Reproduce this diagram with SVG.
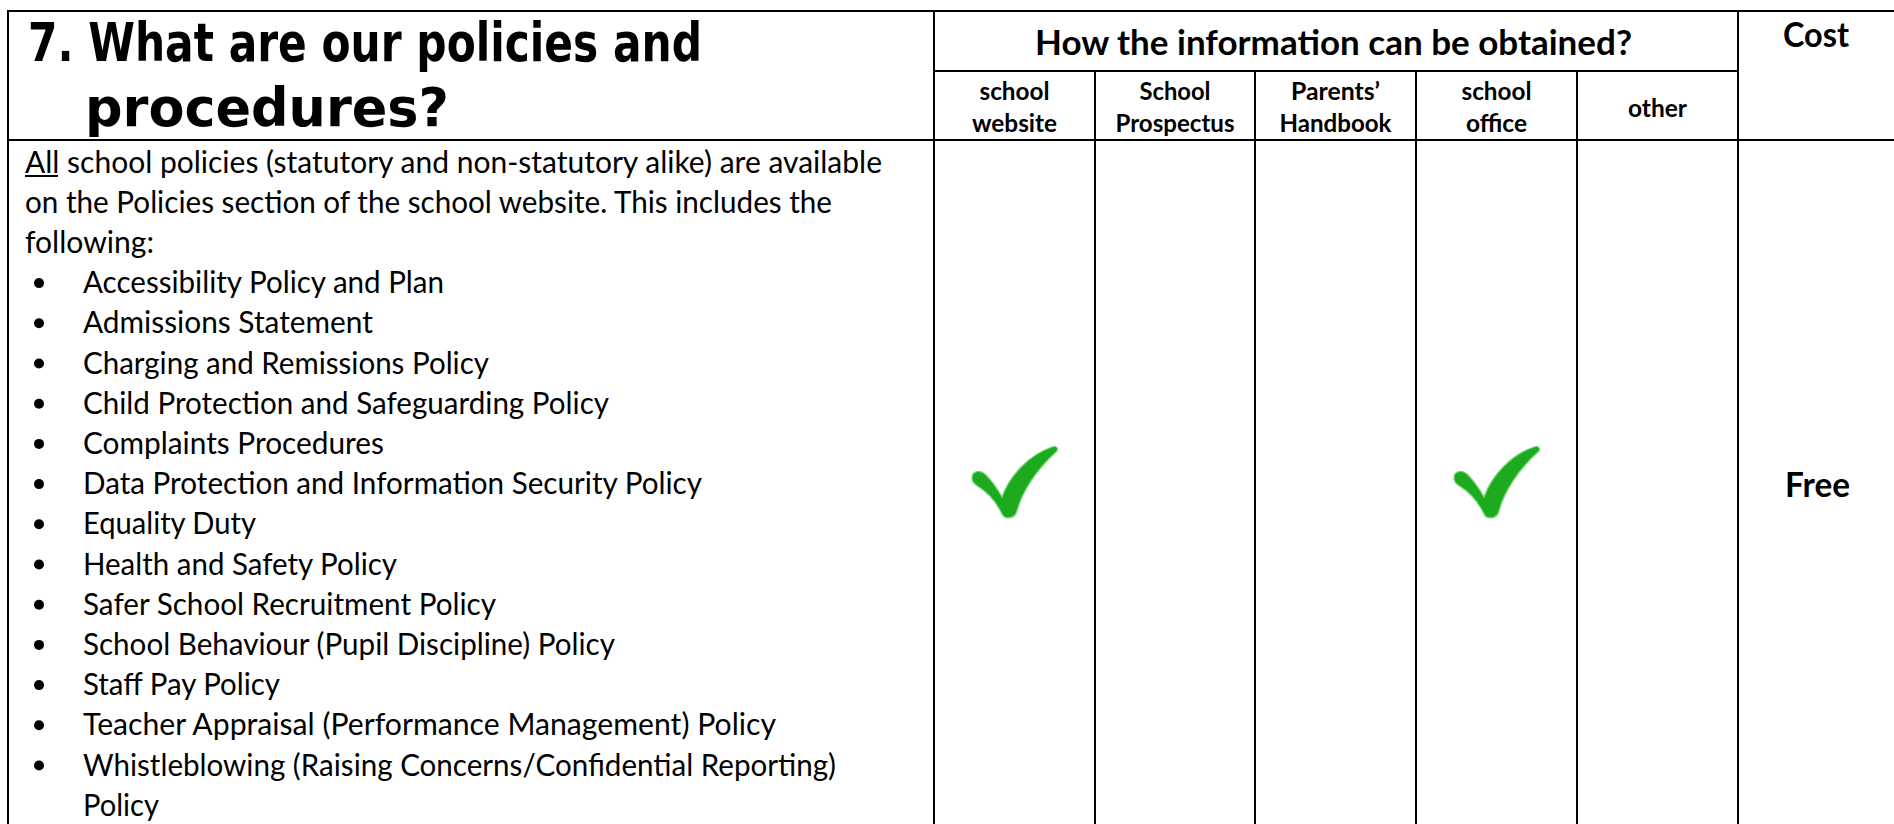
<svg xmlns="http://www.w3.org/2000/svg" width="1894" height="824" viewBox="0 0 1894 824">
<style>
.ln{stroke:#000;stroke-width:2;fill:none}
.ttl{font-family:"DejaVu Sans Condensed","DejaVu Sans",sans-serif;font-stretch:condensed;font-weight:bold;font-size:53px;fill:#000}
.hd{font-family:Lato,"Liberation Sans",sans-serif;font-weight:bold;font-size:34px;fill:#000}
.sh{font-family:Lato,"Liberation Sans",sans-serif;font-weight:bold;font-size:24.5px;fill:#000;text-anchor:middle}
.bd{font-family:Lato,"Liberation Sans",sans-serif;font-size:30px;fill:#000}
.chk{fill:#1EAA1E;stroke:#72DA72;stroke-width:1.3}
</style>
<defs>
<path id="tick" class="chk" d="M0,31 C0,24 8,22 14,28 C21,35 26,43 30,50 C38,28 57,8 80,0 C85,-2 87,2 84,5 C64,23 50,45 45,64 C43,72 33,73 30,67 C24,54 14,44 4,38 C0,35 0,33 0,31 Z"/>
</defs>
<rect width="1894" height="824" fill="#fff"/>
<g id="grid">
<line class="ln" x1="7" y1="11" x2="1894" y2="11"/>
<line class="ln" x1="8" y1="10" x2="8" y2="824"/>
<line class="ln" x1="934" y1="10" x2="934" y2="824"/>
<line class="ln" x1="1738" y1="10" x2="1738" y2="824"/>
<line class="ln" x1="934" y1="71" x2="1738" y2="71"/>
<line class="ln" x1="7" y1="140" x2="1894" y2="140"/>
<line class="ln" x1="1095" y1="71" x2="1095" y2="824"/>
<line class="ln" x1="1255" y1="71" x2="1255" y2="824"/>
<line class="ln" x1="1416" y1="71" x2="1416" y2="824"/>
<line class="ln" x1="1577" y1="71" x2="1577" y2="824"/>
</g>
<g id="title">
<text class="ttl" x="28" y="61" textLength="674" lengthAdjust="spacingAndGlyphs">7. What are our policies and</text>
<text class="ttl" x="85" y="126" textLength="364" lengthAdjust="spacingAndGlyphs">procedures?</text>
</g>
<g id="header">
<text class="hd" x="1035" y="55" textLength="597" lengthAdjust="spacingAndGlyphs">How the information can be obtained?</text>
</g>
<g id="col-website">
<text class="sh" x="1014.5" y="100" textLength="70" lengthAdjust="spacingAndGlyphs">school</text>
<text class="sh" x="1014.5" y="132" textLength="85" lengthAdjust="spacingAndGlyphs">website</text>
</g>
<g id="col-prospectus">
<text class="sh" x="1175" y="100" textLength="71" lengthAdjust="spacingAndGlyphs">School</text>
<text class="sh" x="1175" y="132" textLength="119" lengthAdjust="spacingAndGlyphs">Prospectus</text>
</g>
<g id="col-handbook">
<text class="sh" x="1335.5" y="100" textLength="89" lengthAdjust="spacingAndGlyphs">Parents’</text>
<text class="sh" x="1335.5" y="132" textLength="112" lengthAdjust="spacingAndGlyphs">Handbook</text>
</g>
<g id="col-office">
<text class="sh" x="1496.5" y="100" textLength="70" lengthAdjust="spacingAndGlyphs">school</text>
<text class="sh" x="1496.5" y="132" textLength="61" lengthAdjust="spacingAndGlyphs">office</text>
</g>
<g id="col-other">
<text class="sh" x="1657.5" y="117" textLength="59" lengthAdjust="spacingAndGlyphs">other</text>
</g>
<g id="col-cost">
<text class="hd" x="1783" y="47" textLength="66" lengthAdjust="spacingAndGlyphs">Cost</text>
<text class="hd" x="1785" y="497" textLength="65" lengthAdjust="spacingAndGlyphs">Free</text>
</g>
<g id="body">
<text class="bd" x="25" y="172.5" textLength="857" lengthAdjust="spacingAndGlyphs">All school policies (statutory and non-statutory alike) are available</text>
<line x1="25" y1="176" x2="58" y2="176" stroke="#000" stroke-width="2"/>
<text class="bd" x="25" y="212.7" textLength="807" lengthAdjust="spacingAndGlyphs">on the Policies section of the school website. This includes the</text>
<text class="bd" x="25" y="252.9" textLength="129" lengthAdjust="spacingAndGlyphs">following:</text>
<g fill="#000">
<circle cx="39" cy="283.1" r="5"/>
<circle cx="39" cy="323.3" r="5"/>
<circle cx="39" cy="363.5" r="5"/>
<circle cx="39" cy="403.7" r="5"/>
<circle cx="39" cy="443.9" r="5"/>
<circle cx="39" cy="484.1" r="5"/>
<circle cx="39" cy="524.3" r="5"/>
<circle cx="39" cy="564.5" r="5"/>
<circle cx="39" cy="604.7" r="5"/>
<circle cx="39" cy="644.9" r="5"/>
<circle cx="39" cy="685.1" r="5"/>
<circle cx="39" cy="725.3" r="5"/>
<circle cx="39" cy="765.5" r="5"/>
</g>
<text class="bd" x="83" y="293.1" textLength="361" lengthAdjust="spacingAndGlyphs">Accessibility Policy and Plan</text>
<text class="bd" x="83" y="333.3" textLength="290" lengthAdjust="spacingAndGlyphs">Admissions Statement</text>
<text class="bd" x="83" y="373.5" textLength="406" lengthAdjust="spacingAndGlyphs">Charging and Remissions Policy</text>
<text class="bd" x="83" y="413.7" textLength="526" lengthAdjust="spacingAndGlyphs">Child Protection and Safeguarding Policy</text>
<text class="bd" x="83" y="453.9" textLength="301" lengthAdjust="spacingAndGlyphs">Complaints Procedures</text>
<text class="bd" x="83" y="494.1" textLength="619" lengthAdjust="spacingAndGlyphs">Data Protection and Information Security Policy</text>
<text class="bd" x="83" y="534.3" textLength="173" lengthAdjust="spacingAndGlyphs">Equality Duty</text>
<text class="bd" x="83" y="574.5" textLength="314" lengthAdjust="spacingAndGlyphs">Health and Safety Policy</text>
<text class="bd" x="83" y="614.7" textLength="413" lengthAdjust="spacingAndGlyphs">Safer School Recruitment Policy</text>
<text class="bd" x="83" y="654.9" textLength="532" lengthAdjust="spacingAndGlyphs">School Behaviour (Pupil Discipline) Policy</text>
<text class="bd" x="83" y="695.1" textLength="197" lengthAdjust="spacingAndGlyphs">Staff Pay Policy</text>
<text class="bd" x="83" y="735.3" textLength="693" lengthAdjust="spacingAndGlyphs">Teacher Appraisal (Performance Management) Policy</text>
<text class="bd" x="83" y="775.5" textLength="753" lengthAdjust="spacingAndGlyphs">Whistleblowing (Raising Concerns/Confidential Reporting)</text>
<text class="bd" x="83" y="815.7" textLength="76" lengthAdjust="spacingAndGlyphs">Policy</text>
</g>
<g id="checks">
<use href="#tick" transform="translate(972,447)"/>
<use href="#tick" transform="translate(1454,447)"/>
</g>
</svg>
